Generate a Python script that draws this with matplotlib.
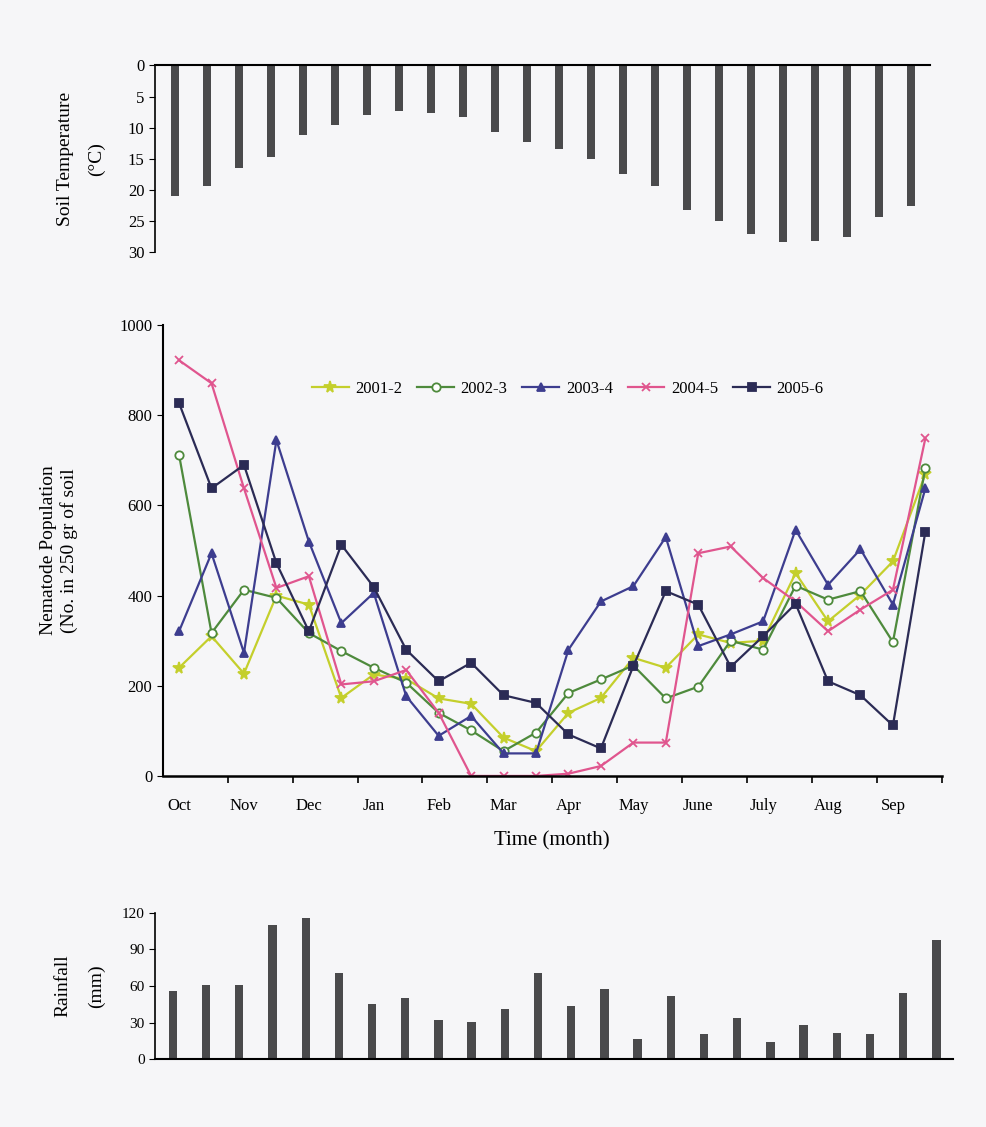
import numpy as np
import matplotlib
matplotlib.use("Agg")
import matplotlib.pyplot as plt

plt.rcParams['font.family'] = ['Liberation Serif', 'DejaVu Serif']

# two readings per month, Oct .. Sep
months = ["Oct", "Nov", "Dec", "Jan", "Feb", "Mar", "Apr", "May", "June", "July", "Aug", "Sep"]

soil_temp = [21, 19.4, 16.5, 14.7, 11.1, 9.5, 7.9, 7.3, 7.6, 8.3, 10.7, 12.3,
             13.4, 15.0, 17.4, 19.4, 23.2, 24.9, 27.0, 28.4, 28.2, 27.5, 24.3, 22.5]

rainfall = [56, 61, 61, 110, 116, 71, 45, 50, 32, 31, 41, 71,
            44, 58, 17, 52, 21, 34, 14, 28, 22, 21, 54, 98]

pop_2001 = [240, 310, 227, 400, 380, 173, 225, 215, 172, 160, 85, 55,
            140, 173, 262, 240, 314, 295, 300, 450, 343, 402, 476, 670]
pop_2002 = [712, 317, 413, 395, 317, 277, 240, 207, 140, 101, 55, 96,
            184, 214, 245, 172, 198, 300, 280, 422, 391, 410, 297, 683]
pop_2003 = [321, 494, 273, 745, 520, 339, 406, 177, 89, 133, 50, 50,
            280, 387, 421, 530, 288, 314, 343, 546, 424, 503, 380, 638]
pop_2004 = [922, 871, 638, 417, 443, 203, 210, 235, 140, 0, 0, 0,
            5, 22, 74, 74, 494, 509, 439, 387, 321, 369, 413, 749]
pop_2005 = [827, 638, 690, 472, 321, 513, 419, 280, 210, 251, 179, 162,
            92, 61, 244, 410, 380, 242, 310, 382, 210, 179, 112, 542]

series = [
    ("2001-2", pop_2001, "#c4cf2c", "*", "#c4cf2c"),
    ("2002-3", pop_2002, "#4e8a3c", "o", "white"),
    ("2003-4", pop_2003, "#3d3d8f", "^", "#3d3d8f"),
    ("2004-5", pop_2004, "#e0558e", "x", "#e0558e"),
    ("2005-6", pop_2005, "#2b2b55", "s", "#2b2b55"),
]

bg = "#f6f6f8"
bar_color = "#4a4a4c"
x = np.arange(len(soil_temp))

fig = plt.figure(figsize=(9.87, 11.27), dpi=100, facecolor=bg)

# ---- soil temperature (bars hang down from 0)
ax1 = fig.add_axes([0.157, 0.776, 0.785, 0.166], facecolor=bg)
ax1.bar(x, soil_temp, width=0.25, color=bar_color)
ax1.set_ylim(30, 0)
ax1.set_xlim(-0.625, 23.6)
ax1.set_yticks([0, 5, 10, 15, 20, 25, 30])
ax1.set_xticks([])
ax1.spines["right"].set_visible(False)
ax1.spines["bottom"].set_visible(False)
ax1.spines["top"].set_linewidth(1.5)
ax1.spines["left"].set_linewidth(1.2)
ax1.tick_params(axis="y", direction="out", length=4, labelsize=12)
ax1.set_ylabel("Soil Temperature\n(°C)", fontsize=14, labelpad=16, linespacing=2.1)

# ---- nematode population
ax2 = fig.add_axes([0.165, 0.3115, 0.789, 0.400], facecolor=bg)
for label, vals, col, mk, face in series:
    ms = 8.5 if mk == "*" else 6
    ax2.plot(x, vals, color=col, lw=1.6, marker=mk, markersize=ms,
             markerfacecolor=face, markeredgecolor=col, markeredgewidth=1.3,
             label=label)
ax2.set_xlim(-0.5, 23.5)
ax2.set_ylim(0, 1000)
ax2.set_yticks([0, 200, 400, 600, 800, 1000])
ax2.set_xticks(np.arange(1.5, 24, 2))
ax2.set_xticklabels([])
ax2.set_xticks(np.arange(0, 24, 2), minor=True)
ax2.set_xticklabels(months, minor=True, fontsize=12)
ax2.tick_params(axis="x", which="minor", length=0, pad=16)
ax2.tick_params(axis="x", which="major", direction="out", length=5, width=1.2)
ax2.tick_params(axis="y", direction="out", length=4, labelsize=12)
ax2.spines["right"].set_visible(False)
ax2.spines["top"].set_visible(False)
ax2.spines["left"].set_linewidth(1.5)
ax2.spines["bottom"].set_linewidth(1.8)
ax2.set_ylabel("Nematode Population\n(No. in 250 gr of soil", fontsize=14, labelpad=30)
ax2.set_xlabel("Time (month)", fontsize=15, labelpad=12)
ax2.legend(loc="upper center", bbox_to_anchor=(0.52, 0.91), ncol=5, frameon=False,
           fontsize=12, handlelength=2.2, columnspacing=0.9, handletextpad=0.4)

# ---- rainfall
ax3 = fig.add_axes([0.157, 0.060, 0.8085, 0.130], facecolor=bg)
ax3.bar(x, rainfall, width=0.25, color=bar_color)
ax3.set_xlim(-0.54, 23.5)
ax3.set_ylim(0, 120)
ax3.set_yticks([0, 30, 60, 90, 120])
ax3.set_xticks([])
ax3.spines["right"].set_visible(False)
ax3.spines["top"].set_visible(False)
ax3.spines["bottom"].set_linewidth(1.5)
ax3.spines["left"].set_linewidth(1.2)
ax3.tick_params(axis="y", direction="out", length=4, labelsize=11)
ax3.set_ylabel("Rainfall\n(mm)", fontsize=14, labelpad=12, linespacing=2.2)

fig.savefig("out.png", dpi=100, facecolor=bg)
